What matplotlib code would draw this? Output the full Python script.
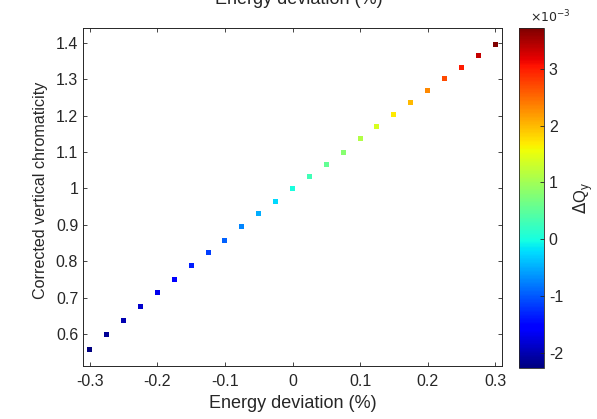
import numpy as np
import matplotlib
matplotlib.use("Agg")
from matplotlib import pyplot as plt

plt.rcParams['font.family'] = ['Liberation Sans', 'DejaVu Sans']

# energy deviation (%)
delta = [-0.3, -0.275, -0.25, -0.225, -0.2, -0.175, -0.15, -0.125, -0.1,
         -0.075, -0.05, -0.025, 0.0, 0.025, 0.05, 0.075, 0.1, 0.125, 0.15,
         0.175, 0.2, 0.225, 0.25, 0.275, 0.3]
# corrected vertical chromaticity
chrom = [0.558, 0.598, 0.638, 0.675, 0.715, 0.751, 0.787, 0.823, 0.858,
         0.896, 0.930, 0.965, 1.000, 1.033, 1.067, 1.100, 1.136, 1.169,
         1.202, 1.235, 1.269, 1.301, 1.332, 1.365, 1.397]
# tune shift dQy (x 1e-3)
dqy = [-2.27, -2.15, -2.0, -1.85, -1.7, -1.53, -1.35, -1.15, -0.95,
       -0.73, -0.5, -0.25, 0.0, 0.3, 0.55, 0.8, 1.1, 1.4, 1.7,
       2.0, 2.3, 2.7, 3.0, 3.35, 3.72]

dark = '#262626'

fig = plt.figure(figsize=(5.97, 4.19), dpi=100)
ax = fig.add_axes([83/597, 53/419, 419/597, 338/419])
sc = ax.scatter(delta, chrom, c=np.array(dqy) * 1e-3, cmap='jet',
                marker='s', s=13, linewidths=0)
ax.set_xlim(-0.31, 0.31)
ax.set_ylim(0.512, 1.441)
ax.set_xticks([-0.3, -0.2, -0.1, 0, 0.1, 0.2, 0.3])
ax.set_xticklabels(['-0.3', '-0.2', '-0.1', '0', '0.1', '0.2', '0.3'])
ax.set_yticks([0.6, 0.7, 0.8, 0.9, 1.0, 1.1, 1.2, 1.3, 1.4])
ax.set_yticklabels(['0.6', '0.7', '0.8', '0.9', '1', '1.1', '1.2', '1.3', '1.4'])
ax.tick_params(direction='in', top=True, right=True, length=3, width=0.6,
               colors=dark, labelsize=11.5, labelcolor=dark)
ax.tick_params(axis='x', pad=6)
for s in ax.spines.values():
    s.set_color(dark)
    s.set_linewidth(0.7)
ax.set_xlabel('Energy deviation (%)', fontsize=13, color=dark, labelpad=4)
ax.set_ylabel('Corrected vertical chromaticity', fontsize=11.6, color=dark)
ax.yaxis.set_label_coords(-0.083, 0.52)
fig.text(0.5, 1.0, 'Energy deviation (%)', fontsize=13, color=dark,
         ha='center', va='center')

cax = fig.add_axes([519/597, 51/419, 25/597, 340/419])
cb = fig.colorbar(sc, cax=cax)
cb.ax.tick_params(direction='in', length=3, width=0.6, colors=dark,
                  labelsize=11.5, labelcolor=dark)
cb.outline.set_edgecolor(dark)
cb.outline.set_linewidth(0.6)
cb.set_ticks([-2e-3, -1e-3, 0, 1e-3, 2e-3, 3e-3])
cb.set_ticklabels(['-2', '-1', '0', '1', '2', '3'])
fig.text(530/597, 1 - 17/419, r'$\times10^{-3}$', fontsize=9, color=dark,
         ha='left', va='center')
cb.set_label(r'$\Delta$Q$_\mathregular{y}$', fontsize=12, color=dark, labelpad=6)

fig.savefig('out.png', dpi=100)
